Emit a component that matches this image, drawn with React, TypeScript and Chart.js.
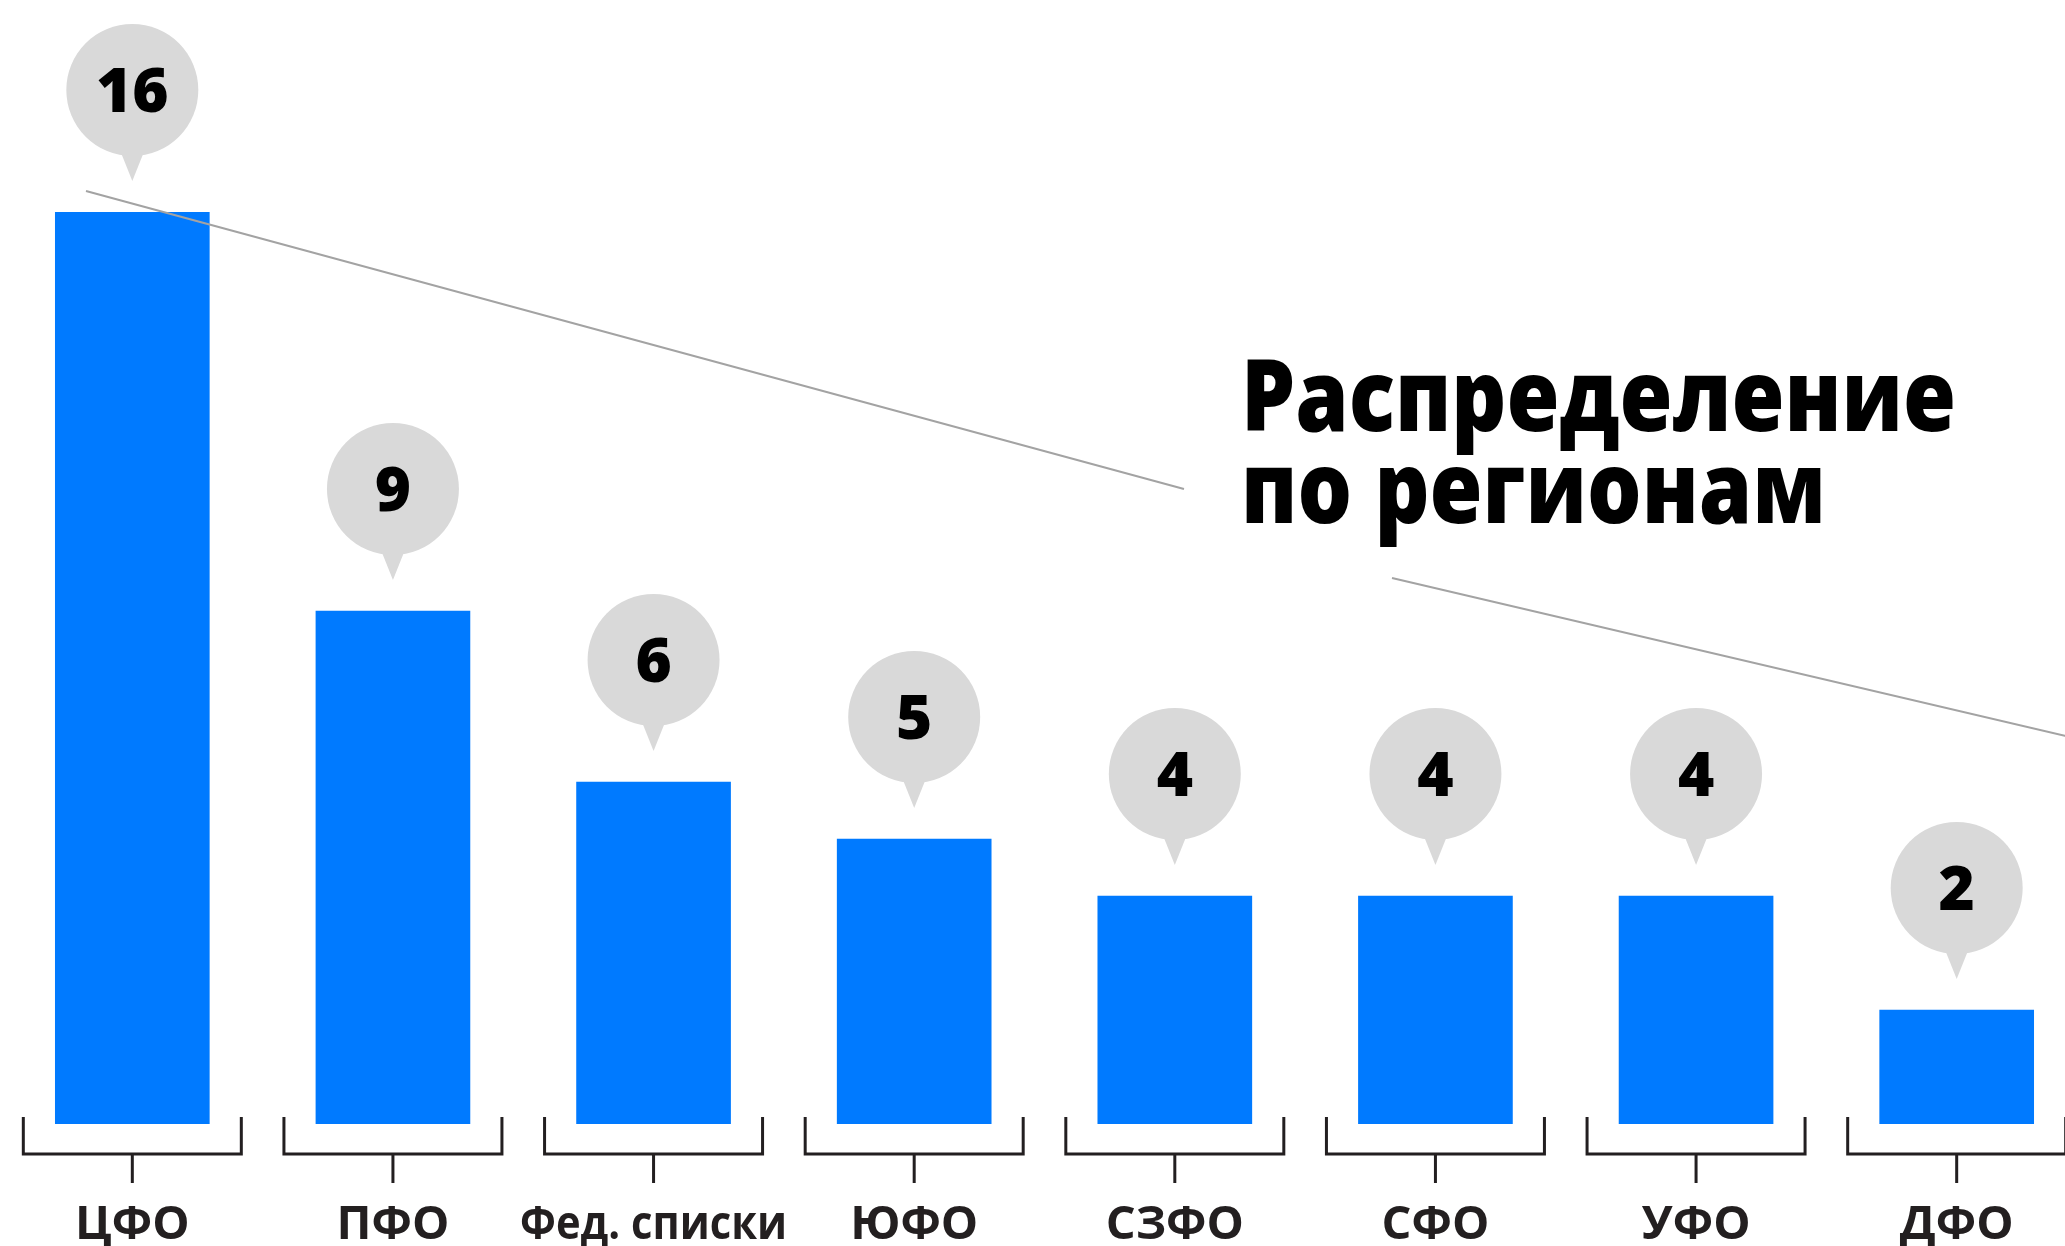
import React, { useEffect, useRef } from "react";
import { Chart, registerables } from "chart.js";
Chart.register(...registerables);

const categories = ["ЦФО", "ПФО", "Фед. списки", "ЮФО", "СЗФО", "СФО", "УФО", "ДФО"];
const values = [16, 9, 6, 5, 4, 4, 4, 2];
const titleLines = ["Распределение", "по регионам"];

const CANVAS_W = 2100;
const CANVAS_H = 1246;

export default function App() {
  const ref = useRef<HTMLCanvasElement>(null);

  useEffect(() => {
    const canvas = ref.current;
    if (!canvas) return;

    const overlay = {
      id: "overlay",
      afterDatasetsDraw(chart: any) {
        const ctx = chart.ctx as CanvasRenderingContext2D;
        const xs = chart.scales.x;
        const ys = chart.scales.y;
        const base = ys.getPixelForValue(0);
        ctx.save();

        // decorative diagonal line (two segments around the title)
        ctx.strokeStyle = "#a3a3a3";
        ctx.lineWidth = 2;
        ctx.beginPath();
        ctx.moveTo(86, 191);
        ctx.lineTo(1184, 489);
        ctx.moveTo(1392, 578);
        ctx.lineTo(2100, 744);
        ctx.stroke();

        // title
        ctx.fillStyle = "#000";
        ctx.font = "800 100px 'Open Sans'";
        ctx.textAlign = "left";
        ctx.textBaseline = "alphabetic";
        const w1 = ctx.measureText(titleLines[0]).width;
        const sx = 715 / w1;
        const titleYs = [431, 523];
        titleLines.forEach((t, i) => {
          ctx.save();
          ctx.translate(1241, titleYs[i]);
          ctx.scale(sx, 1);
          ctx.fillText(t, 0, 0);
          ctx.restore();
        });

        // bubbles
        values.forEach((v, i) => {
          const cx = xs.getPixelForValue(i);
          const top = ys.getPixelForValue(v);
          const cy = top - 122;
          const r = 66;
          ctx.fillStyle = "#d9d9d9";
          ctx.beginPath();
          ctx.arc(cx, cy, r, 0, Math.PI * 2);
          ctx.fill();
          ctx.beginPath();
          ctx.moveTo(cx - 12, cy + r - 5);
          ctx.lineTo(cx + 12, cy + r - 5);
          ctx.lineTo(cx, cy + r + 25);
          ctx.closePath();
          ctx.fill();
          ctx.fillStyle = "#000";
          ctx.font = "800 62px 'Open Sans'";
          ctx.textAlign = "center";
          ctx.textBaseline = "alphabetic";
          ctx.fillText(String(v), cx, cy + 22);
        });

        // brackets and category labels
        ctx.strokeStyle = "#231f20";
        ctx.lineWidth = 3;
        categories.forEach((c, i) => {
          const cx = xs.getPixelForValue(i);
          const half = 109;
          ctx.beginPath();
          ctx.moveTo(cx - half, base - 7);
          ctx.lineTo(cx - half, base + 30);
          ctx.lineTo(cx + half, base + 30);
          ctx.lineTo(cx + half, base - 7);
          ctx.moveTo(cx, base + 30);
          ctx.lineTo(cx, base + 59);
          ctx.stroke();
          ctx.fillStyle = "#231f20";
          ctx.font = "bold 47px 'Open Sans'";
          ctx.textAlign = "center";
          ctx.textBaseline = "alphabetic";
          ctx.fillText(c, cx, base + 115, 267);
        });

        ctx.restore();
      },
    };

    const chart = new Chart(canvas, {
      type: "bar",
      data: {
        labels: categories,
        datasets: [
          {
            data: values,
            backgroundColor: "#007aff",
            borderWidth: 0,
            barThickness: 154,
          },
        ],
      },
      options: {
        animation: false,
        responsive: false,
        devicePixelRatio: 1,
        layout: { padding: { left: 2, right: 13, top: 212, bottom: 122 } },
        plugins: { legend: { display: false }, tooltip: { enabled: false } },
        scales: {
          x: { display: false, offset: true, grid: { display: false } },
          y: { display: false, min: 0, max: 16 },
        },
      },
      plugins: [overlay],
    });

    return () => chart.destroy();
  }, []);

  return (
    <div
      style={{
        position: "fixed",
        left: 0,
        top: 0,
        width: 2065,
        height: 1246,
        overflow: "hidden",
        background: "#fff",
      }}
    >
      <canvas ref={ref} width={CANVAS_W} height={CANVAS_H} style={{ display: "block" }} />
    </div>
  );
}
